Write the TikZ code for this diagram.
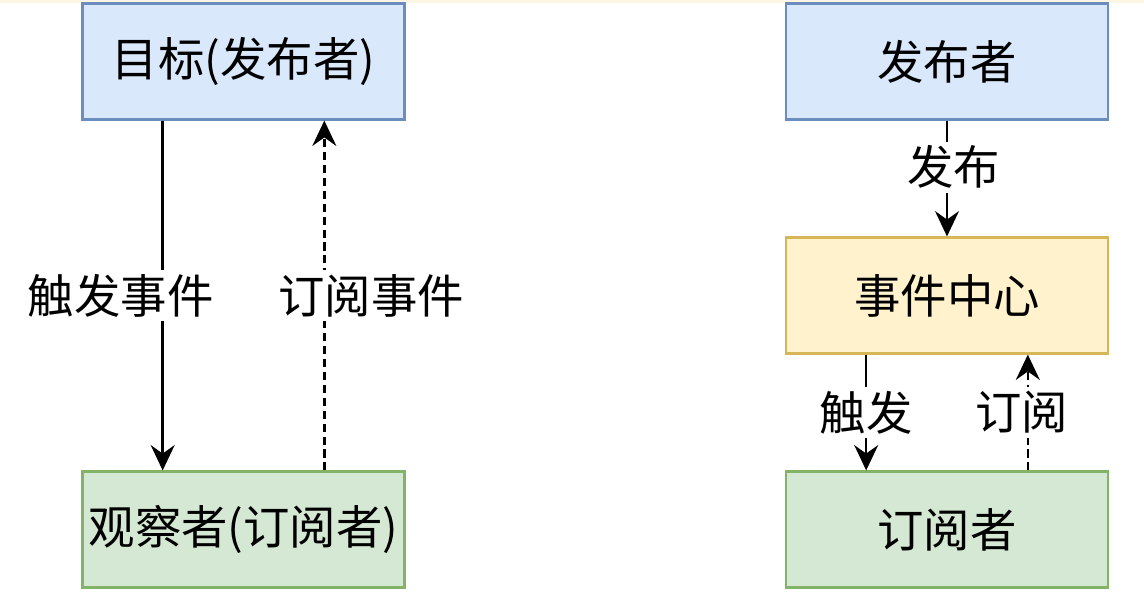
\documentclass[tikz,border=0pt]{standalone}
\usepackage{fontspec}
\setmainfont{Noto Sans CJK SC}
\usetikzlibrary{arrows.meta}

\definecolor{blueFill}{HTML}{DAE8FC}
\definecolor{blueLine}{HTML}{6C8EBF}
\definecolor{greenFill}{HTML}{D5E8D4}
\definecolor{greenLine}{HTML}{82B366}
\definecolor{yellowFill}{HTML}{FFF2CC}
\definecolor{yellowLine}{HTML}{D6B656}
\definecolor{edgeTop}{HTML}{FEF6E4}

\tikzset{
  box/.style={draw, line width=1.5pt, minimum width=8.05cm, minimum height=2.9cm,
    font=\fontsize{33}{40}\selectfont, inner sep=0pt},
  lbl/.style={fill=white, inner sep=3pt, font=\fontsize{33}{40}\selectfont},
  arr/.style={line width=1.8pt, -{Stealth[length=18pt, width=17pt, inset=6pt]}},
  dashline/.style={dash pattern=on 5.7pt off 3.5pt}
}

\begin{document}
\begin{tikzpicture}[x=0.025cm, y=-0.025cm]
\useasboundingbox (0,0) rectangle (1144,599);
\fill[edgeTop] (0,0) rectangle (1144,3);

\node[box, fill=blueFill, draw=blueLine] (t) at (243.5,61.5) {目标(发布者)};
\node[box, fill=greenFill, draw=greenLine] (o) at (243.5,529.5) {观察者(订阅者)};

\node[box, fill=blueFill, draw=blueLine] (p) at (947,61.5) {发布者};
\node[box, fill=yellowFill, draw=yellowLine] (c) at (947,295.5) {事件中心};
\node[box, fill=greenFill, draw=greenLine] (s) at (947,529.5) {订阅者};

\draw[arr] ([xshift=-2.02cm]t.south) to node[lbl, xshift=-1.05cm]{触发事件} ([xshift=-2.02cm]o.north);
\draw[arr, dashline] ([xshift=2.02cm]o.north) to node[lbl, xshift=1.17cm]{订阅事件} ([xshift=2.02cm]t.south);

\draw[arr] (p) to node[lbl, xshift=0.17cm, yshift=0.28cm]{发布} (c);
\draw[arr] ([xshift=-2.02cm]c.south) to node[lbl]{触发} ([xshift=-2.02cm]s.north);
\draw[arr, dashline] ([xshift=2.02cm]s.north) to node[lbl, xshift=-0.15cm]{订阅} ([xshift=2.02cm]c.south);
\end{tikzpicture}
\end{document}
